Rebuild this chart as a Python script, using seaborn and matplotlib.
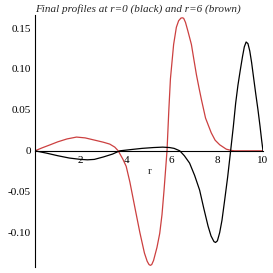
import matplotlib
matplotlib.use("Agg")
import matplotlib.pyplot as plt
import seaborn as sns
import pandas as pd
from matplotlib.ticker import MultipleLocator, FixedLocator

# Data
r_black = [0.0, 0.5, 1.0, 1.5, 2.0, 2.3, 2.6, 3.0, 3.4, 3.72, 4.2, 4.7, 5.2, 5.6, 5.9, 6.1,
           6.35, 6.55, 6.78, 7.0, 7.22, 7.4, 7.59, 7.72, 7.85, 7.92, 8.0, 8.1, 8.2, 8.32,
           8.45, 8.58, 8.7, 8.8, 8.9, 9.0, 9.1, 9.18, 9.26, 9.34, 9.42, 9.5, 9.58, 9.68,
           9.78, 9.87, 9.94, 10.0]
v_black = [0.0, -0.0028, -0.006, -0.0088, -0.0105, -0.011, -0.0105, -0.0075, -0.004, 0.0,
           0.0015, 0.003, 0.004, 0.0045, 0.004, 0.003, 0.0, -0.006, -0.015, -0.03, -0.048,
           -0.07, -0.092, -0.104, -0.111, -0.112, -0.11, -0.1, -0.085, -0.06, -0.032, 0.0,
           0.03, 0.058, 0.08, 0.098, 0.115, 0.127, 0.133, 0.131, 0.122, 0.108, 0.091, 0.07,
           0.05, 0.03, 0.013, 0.0]

r_red = [0.0, 0.3, 0.66, 1.0, 1.4, 1.82, 2.2, 2.7, 3.0, 3.28, 3.5, 3.65, 3.85, 4.0, 4.16,
         4.4, 4.6, 4.8, 4.92, 5.0, 5.06, 5.12, 5.2, 5.35, 5.47, 5.57, 5.66, 5.79, 5.87, 5.94,
         6.08, 6.2, 6.3, 6.4, 6.46, 6.52, 6.6, 6.7, 6.86, 6.96, 7.08, 7.2, 7.3, 7.48, 7.73,
         7.9, 8.1, 8.39, 8.6, 8.75, 10.0]
v_red = [0.0, 0.0035, 0.0073, 0.011, 0.0145, 0.0168, 0.0158, 0.0125, 0.0105, 0.0082, 0.0045,
         0.0, -0.01, -0.019, -0.038, -0.072, -0.1, -0.125, -0.135, -0.139, -0.14, -0.139,
         -0.134, -0.118, -0.101, -0.078, -0.048, 0.0, 0.05, 0.088, 0.13, 0.151, 0.159,
         0.1622, 0.1626, 0.162, 0.157, 0.147, 0.13, 0.113, 0.093, 0.076, 0.0625, 0.04,
         0.022, 0.013, 0.0074, 0.002, 0.0005, 0.0, 0.0]

title = "Final profiles at r=0 (black) and r=6 (brown)"
x_label = "r"

df_black = pd.DataFrame({"r": r_black, "v": v_black})
df_red = pd.DataFrame({"r": r_red, "v": v_red})

sns.set_style("white")
plt.rcParams["font.family"] = ["Liberation Serif", "DejaVu Serif"]

fig = plt.figure(figsize=(2.73, 2.73), dpi=100)
ax = fig.add_axes([35 / 273, 1 - 267 / 273, 228 / 273, 252 / 273])

sns.lineplot(data=df_red, x="r", y="v", ax=ax, color="#cc4040", linewidth=0.9,
             estimator=None, sort=False)
sns.lineplot(data=df_black, x="r", y="v", ax=ax, color="black", linewidth=0.9,
             estimator=None, sort=False)

ax.set_xlim(0, 10)
ax.set_ylim(-0.142, 0.166)

for s in ["top", "right"]:
    ax.spines[s].set_visible(False)
ax.spines["left"].set_position(("data", 0))
ax.spines["bottom"].set_position(("data", 0))
for s in ["left", "bottom"]:
    ax.spines[s].set_color("black")
    ax.spines[s].set_linewidth(0.8)

ax.xaxis.set_major_locator(FixedLocator([2, 4, 6, 8, 10]))
ax.xaxis.set_minor_locator(FixedLocator([1, 3, 5, 7, 9]))
ax.yaxis.set_major_locator(FixedLocator([-0.10, -0.05, 0, 0.05, 0.10, 0.15]))
ax.yaxis.set_minor_locator(MultipleLocator(0.01))
ax.set_xticklabels(["2", "4", "6", "8", "10"])
ax.set_yticklabels(["-0.10", "-0.05", "0", "0.05", "0.10", "0.15"])

ax.tick_params(axis="both", which="major", labelsize=8, length=4, width=0.8,
               direction="inout", pad=1, colors="black")
ax.tick_params(axis="both", which="minor", length=2.5, width=0.6, direction="inout",
               colors="black")
ax.tick_params(axis="x", which="major", pad=2)

ax.set_xlabel(x_label, fontsize=8)
ax.xaxis.set_label_coords((150 - 35) / 228, (267 - 167) / 252)
ax.set_ylabel("")
ax.set_title(title, fontsize=8, style="italic", pad=2)
ax.title.set_position((0.45, 1.0))

fig.savefig("out.png", dpi=100)
